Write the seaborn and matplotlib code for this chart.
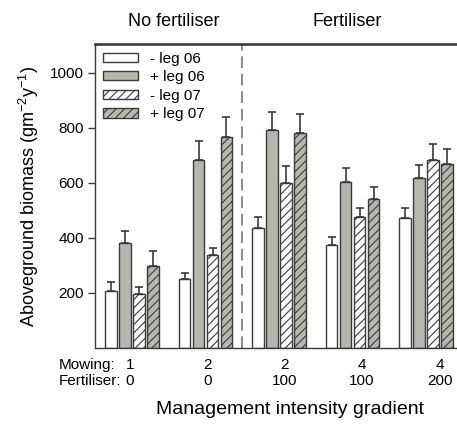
import numpy as np
import pandas as pd
import seaborn as sns
import matplotlib.pyplot as plt
from matplotlib.patches import Patch

# management levels along the gradient
mowing = [1, 2, 2, 4, 4]
fertiliser = [0, 0, 100, 100, 200]
series = ["- leg 06", "+ leg 06", "- leg 07", "+ leg 07"]

# aboveground biomass (g m-2 y-1), one list per series
minus_leg06 = [207, 251, 436, 375, 473]
plus_leg06 = [382, 684, 793, 603, 618]
minus_leg07 = [196, 338, 600, 476, 683]
plus_leg07 = [298, 767, 782, 541, 669]

# upper error bars
err_minus_leg06 = [33, 22, 40, 28, 36]
err_plus_leg06 = [43, 69, 65, 52, 47]
err_minus_leg07 = [26, 25, 61, 33, 59]
err_plus_leg07 = [55, 73, 69, 44, 55]

values = [minus_leg06, plus_leg06, minus_leg07, plus_leg07]
errors = [err_minus_leg06, err_plus_leg06, err_minus_leg07, err_plus_leg07]

sites = [f"{m}\n{f}" for m, f in zip(mowing, fertiliser)]
df = pd.DataFrame({
    'site': np.tile(sites, len(series)),
    'group': np.repeat(series, len(sites)),
    'biomass': np.concatenate(values),
})

sns.set_style('ticks')
plt.rcParams['font.family'] = ['Liberation Sans', 'DejaVu Sans']
plt.rcParams['mathtext.default'] = 'regular'
plt.rcParams['hatch.linewidth'] = 0.8
for k in ['text.color', 'axes.labelcolor', 'xtick.color', 'ytick.color']:
    plt.rcParams[k] = 'black'

grey = '#b8b8aa'
edge = '#3a3a3a'
fills = ['white', grey, 'white', grey]
hatches = ['', '', '////', '////']

fig = plt.figure(figsize=(4.57, 4.26), dpi=100)
ax = fig.add_axes([95 / 457, 1 - 348 / 426, 362 / 457, 304 / 426])

sns.barplot(data=df, x='site', y='biomass', hue='group', hue_order=series,
            palette=fills, width=0.76, gap=0.18, edgecolor=edge, linewidth=1.0,
            legend=False, errorbar=None, ax=ax)

for cont, h, err in zip(ax.containers, hatches, errors):
    xs, ys = [], []
    for p in cont:
        p.set_hatch(h)
        p.set_edgecolor(edge)
        xs.append(p.get_x() + p.get_width() / 2)
        ys.append(p.get_height())
    ax.errorbar(xs, ys, yerr=[np.zeros(len(err)), err], fmt='none',
                ecolor=edge, elinewidth=1.2, capsize=3, capthick=1.2, zorder=1)

ax.set_xlim(-0.503, 4.42)
ax.set_ylim(0, 1105)
ax.set_yticks([200, 400, 600, 800, 1000])
# the row labels sit a little right of the bar groups in the original
ax.set_xticks([-0.03, 1.03, 2.075, 3.12, 4.19], sites)
ax.tick_params(axis='y', labelsize=11, length=5, width=1, color=edge, pad=3)
ax.tick_params(axis='x', labelsize=11, length=0, pad=7)
for lab in ax.get_xticklabels():
    lab.set_linespacing(1.2)

ax.axvline(1.5, color='#777777', lw=1.2, ls=(0, (7, 3.5)), zorder=0)

for s in ['left', 'bottom']:
    ax.spines[s].set_color(edge)
    ax.spines[s].set_linewidth(1.0)
ax.spines['top'].set_color('#333333')
ax.spines['top'].set_linewidth(1.8)
ax.spines['right'].set_visible(False)

ax.set_xlabel('Management intensity gradient', fontsize=14)
ax.xaxis.set_label_coords(0.54, -0.175)
ax.set_ylabel('Aboveground biomass (gm$^{-2}$y$^{-1}$)', fontsize=13)
ax.yaxis.set_label_coords(-0.15, 0.5)

row_tf = ax.get_xaxis_text1_transform(7)[0]
ax.text(-1.0, 0, 'Mowing:\nFertiliser:', transform=row_tf, ha='left', va='top',
        fontsize=11, linespacing=1.2)

ax.text(0.57, 1.075, 'No fertiliser', transform=ax.get_xaxis_transform(),
        ha='center', va='center', fontsize=13)
ax.text(2.92, 1.075, 'Fertiliser', transform=ax.get_xaxis_transform(),
        ha='center', va='center', fontsize=13)

handles = [Patch(facecolor=f, edgecolor=edge, hatch=h, lw=1.0)
           for f, h in zip(fills, hatches)]
ax.legend(handles, series, loc='upper left', bbox_to_anchor=(0.0, 1.0),
          frameon=False, fontsize=11, handlelength=2.3, handleheight=0.55,
          labelspacing=0.3, handletextpad=0.8, borderpad=0.2, borderaxespad=0.3)

plt.savefig('out.png', dpi=100)
